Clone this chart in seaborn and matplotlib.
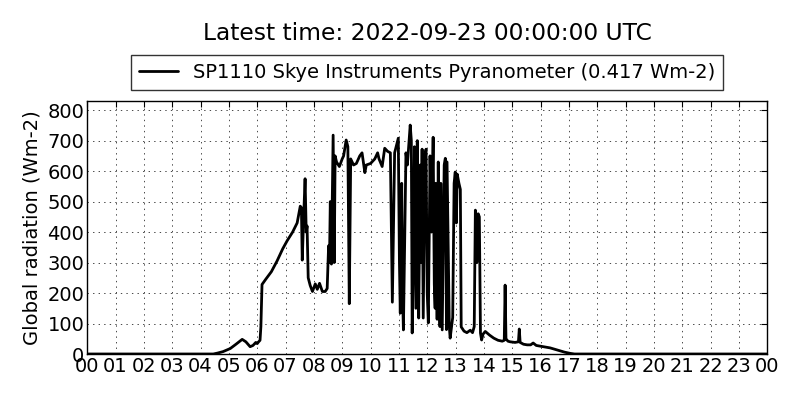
import matplotlib
matplotlib.use("Agg")
import pandas as pd
import seaborn as sns
import matplotlib.pyplot as plt

# hours of day (UTC) and global radiation (Wm-2)
hours = [
    0.0, 4.0, 4.45, 4.6, 4.8, 5.05, 5.25, 5.47, 5.6, 5.75, 5.85, 5.95, 6.0, 6.05,
    6.1, 6.13, 6.17, 6.3, 6.5, 6.7, 6.9, 7.06, 7.25, 7.41, 7.52, 7.56, 7.59, 7.64,
    7.69, 7.73, 7.76, 7.8, 7.87, 7.95, 8.05, 8.12, 8.2, 8.3, 8.4, 8.47, 8.52, 8.55,
    8.58, 8.62, 8.68, 8.72, 8.75, 8.8, 8.9, 9.0, 9.05, 9.14, 9.2, 9.25, 9.3, 9.4,
    9.5, 9.62, 9.7, 9.8, 9.85, 10.0, 10.15, 10.25, 10.3, 10.41, 10.5, 10.6, 10.7,
    10.77, 10.85, 10.98, 11.02, 11.05, 11.1, 11.13, 11.16, 11.25, 11.3, 11.4, 11.44,
    11.47, 11.52, 11.55, 11.6, 11.65, 11.7, 11.75, 11.78, 11.82, 11.86, 11.92, 11.96,
    12.0, 12.04, 12.1, 12.15, 12.21, 12.25, 12.28, 12.3, 12.35, 12.39, 12.42, 12.45,
    12.48, 12.53, 12.57, 12.6, 12.64, 12.68, 12.7, 12.75, 12.78, 12.81, 12.9,
    12.95, 12.99, 13.03, 13.06, 13.12, 13.17, 13.2, 13.3, 13.4, 13.52, 13.6, 13.66,
    13.7, 13.75, 13.8, 13.84, 13.88, 13.92, 13.97, 14.05, 14.2, 14.35, 14.5, 14.65,
    14.72, 14.75, 14.78, 14.85, 14.93, 15.1, 15.22, 15.25, 15.28, 15.4, 15.53, 15.65,
    15.74, 15.85, 16.1, 16.34, 16.6, 16.85, 17.05, 17.2, 24.0,
]
radiation = [
    0, 0, 0, 3, 8, 18, 32, 48, 40, 24, 28, 38, 34, 40,
    45, 90, 228, 245, 270, 305, 345, 372, 400, 430, 485, 480, 308, 450,
    575, 400, 420, 250, 225, 205, 230, 212, 232, 205, 205, 215, 355, 300,
    500, 295, 718, 300, 650, 630, 615, 640, 650, 702, 680, 165, 640, 620,
    625, 650, 660, 595, 620, 625, 640, 660, 640, 615, 675, 665, 660,
    170, 660, 708, 300, 134, 560, 200, 79, 660, 620, 751, 700,
    69, 400, 680, 150, 700, 118, 620, 300, 672, 118, 650, 672,
    200, 102, 650, 400, 711, 230, 150, 560, 114, 630, 300, 90,
    560, 79, 400, 620, 642, 80, 630, 300, 90, 52, 120,
    560, 597, 430, 590, 560, 540, 89, 75, 70, 78, 70, 90,
    472, 300, 460, 450, 69, 46, 65, 74, 62, 52, 45, 42,
    45, 226, 50, 42, 40, 38, 40, 82, 38, 32, 30, 30,
    36, 28, 24, 20, 13, 6, 2, 0, 0,
]
tick_hours = list(range(25))
tick_labels = [f"{h % 24:02d}" for h in tick_hours]
y_ticks = list(range(0, 801, 100))

series_label = "SP1110 Skye Instruments Pyranometer (0.417 Wm-2)"
title = "Latest time: 2022-09-23 00:00:00 UTC"

df = pd.DataFrame({"hour": hours, "radiation": radiation})

sns.set_style("white")
plt.rcParams["font.family"] = ["DejaVu Sans"]
plt.rcParams["text.color"] = "black"
plt.rcParams["axes.labelcolor"] = "black"
plt.rcParams["xtick.color"] = "black"
plt.rcParams["ytick.color"] = "black"
plt.rcParams["lines.scale_dashes"] = False

fig, ax = plt.subplots(figsize=(8, 4), dpi=100)
fig.subplots_adjust(left=0.109, right=0.959, top=0.7475, bottom=0.115)

sns.lineplot(data=df, x="hour", y="radiation", ax=ax, color="black",
             linewidth=2, sort=False, estimator=None, label=series_label)

ax.set_xlim(0, 24)
ax.set_ylim(0, 830)
ax.set_xticks(tick_hours)
ax.set_xticklabels(tick_labels)
ax.set_yticks(y_ticks)
ax.tick_params(axis="both", labelsize=14, direction="in", top=True, right=True,
               length=4, color="black", pad=2)
ax.grid(True, color="black", linestyle=(0, (1, 3)), linewidth=0.5)
for spine in ax.spines.values():
    spine.set_color("black")
    spine.set_linewidth(1)
ax.set_xlabel("")
ax.set_ylabel("Global radiation (Wm-2)", fontsize=14, labelpad=4)

leg = ax.legend(loc="lower center", bbox_to_anchor=(0.5, 1.045), fontsize=14,
                frameon=True, fancybox=False, borderaxespad=0, handlelength=2.0)
leg.get_frame().set_edgecolor("black")
leg.get_frame().set_linewidth(1)

fig.suptitle(title, fontsize=16.8, x=0.534, y=0.945)

plt.savefig("out.png", dpi=100)
plt.close()
